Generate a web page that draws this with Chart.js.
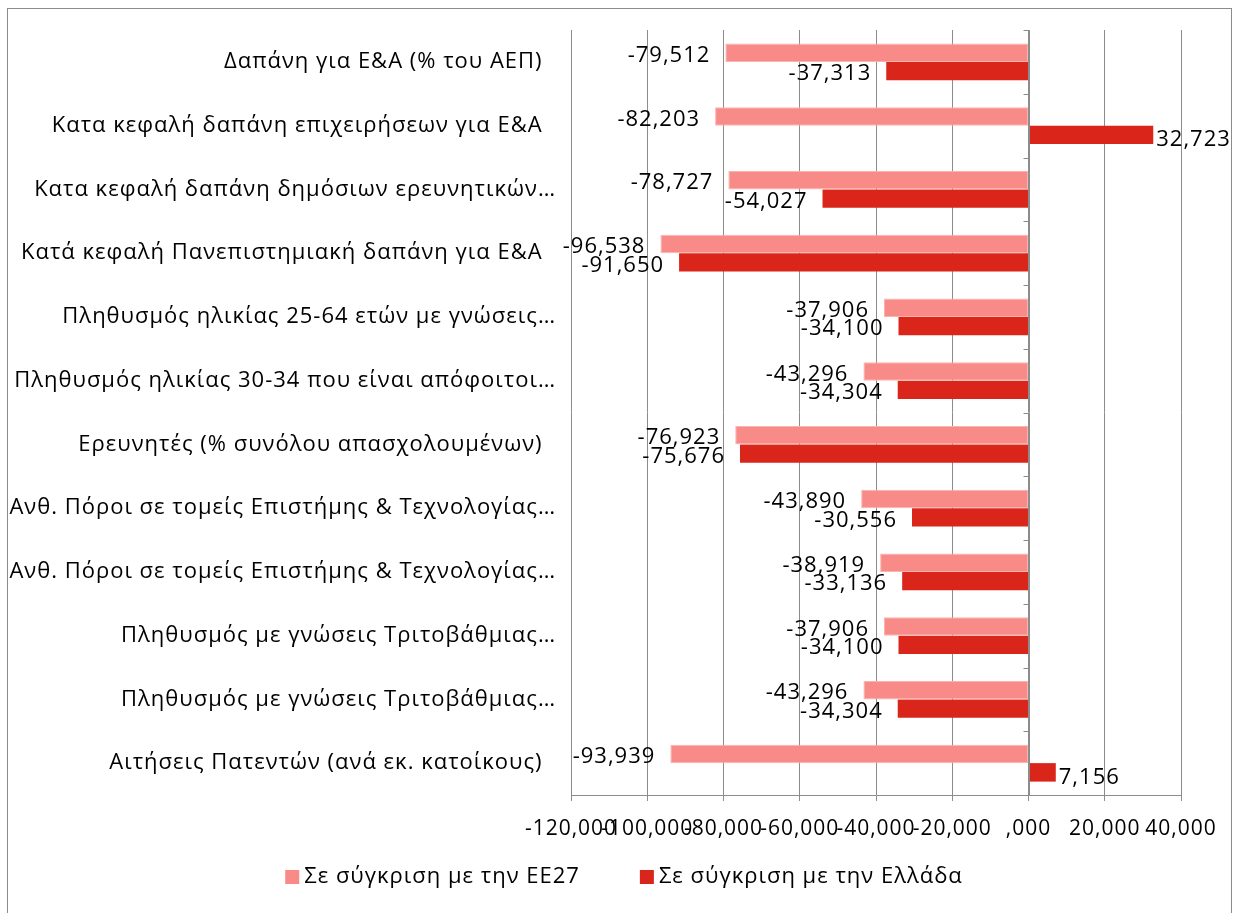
<!DOCTYPE html>
<html>
<head>
<meta charset="utf-8">
<script src="https://cdn.jsdelivr.net/npm/chart.js@4/dist/chart.umd.min.js"></script>
<style>
  html, body { margin: 0; padding: 0; background: #fff; }
  #wrap { width: 1236px; height: 913px; position: relative; }
</style>
</head>
<body>
<div id="wrap"><canvas id="graph"></canvas></div>
<script>
Chart.defaults.font.family = '"Open Sans", "Noto Sans", sans-serif'
Chart.defaults.color = '#000'

const categories = [
  'Δαπάνη για Ε&Α (% του ΑΕΠ)  ',
  'Κατα κεφαλή δαπάνη επιχειρήσεων για Ε&Α  ',
  'Κατα κεφαλή δαπάνη δημόσιων ερευνητικών…',
  'Κατά κεφαλή Πανεπιστημιακή δαπάνη για Ε&Α  ',
  'Πληθυσμός ηλικίας 25-64 ετών με γνώσεις…',
  'Πληθυσμός ηλικίας 30-34 που είναι απόφοιτοι…',
  'Ερευνητές (% συνόλου απασχολουμένων)  ',
  'Ανθ. Πόροι σε τομείς Επιστήμης & Τεχνολογίας…',
  'Ανθ. Πόροι σε τομείς Επιστήμης & Τεχνολογίας…',
  'Πληθυσμός με γνώσεις Τριτοβάθμιας…',
  'Πληθυσμός με γνώσεις Τριτοβάθμιας…',
  'Αιτήσεις Πατεντών (ανά εκ. κατοίκους)  '
]

const seriesNames = ['Σε σύγκριση με την ΕΕ27', 'Σε σύγκριση με την Ελλάδα']

const vsEU27 = [-79.512, -82.203, -78.727, -96.538, -37.906, -43.296, -76.923, -43.890, -38.919, -37.906, -43.296, -93.939]
const vsGreece = [-37.313, 32.723, -54.027, -91.650, -34.100, -34.304, -75.676, -30.556, -33.136, -34.100, -34.304, 7.156]

const tickLabels = ['-120,000', '-100,000', '-80,000', '-60,000', '-40,000', '-20,000', ',000', '20,000', '40,000']

const colors = { eu: '#F88A87', gr: '#DA251B', grid: '#8C8C8C' }

const fmt = v => v.toFixed(3).replace('.', ',')

// outer frame + axis at zero with category tick marks
const frame = {
  id: 'frame',
  beforeDraw(chart) {
    const { ctx } = chart
    ctx.letterSpacing = '1px'
    ctx.save()
    ctx.strokeStyle = '#8C8C8C'
    ctx.lineWidth = 1
    ctx.strokeRect(7.5, 8.5, 1224, 930)
    ctx.restore()
  },
  afterDatasetsDraw(chart) {
    const { ctx, scales: { x, y } } = chart
    const x0 = Math.round(x.getPixelForValue(0)) + 0.5
    ctx.save()
    ctx.strokeStyle = colors.grid
    ctx.lineWidth = 1
    ctx.beginPath()
    ctx.moveTo(x0, y.top)
    ctx.lineTo(x0, y.bottom)
    for (let i = 0; i <= categories.length; i++) {
      const py = Math.round(y.getPixelForValue(i - 0.5)) + 0.5
      ctx.moveTo(x0 - 6, py)
      ctx.lineTo(x0, py)
    }
    ctx.stroke()
    ctx.restore()
  }
}

// value labels at bar ends
const barLabels = {
  id: 'barLabels',
  afterDatasetsDraw(chart) {
    const { ctx } = chart
    ctx.save()
    ctx.font = '22px "Open Sans", sans-serif'
    ctx.fillStyle = '#000'
    ctx.textBaseline = 'middle'
    chart.data.datasets.forEach((ds, di) => {
      chart.getDatasetMeta(di).data.forEach((bar, i) => {
        const v = ds.data[i]
        if (v < 0) {
          ctx.textAlign = 'right'
          ctx.fillText(fmt(v), bar.x - 15, bar.y + 3)
        } else {
          ctx.textAlign = 'left'
          ctx.fillText(fmt(v), bar.x + 3, bar.y + 5)
        }
      })
    })
    ctx.restore()
  }
}

// legend below the axis
const bottomLegend = {
  id: 'bottomLegend',
  afterDraw(chart) {
    const { ctx } = chart
    ctx.save()
    ctx.font = '22px "Open Sans", sans-serif'
    ctx.textBaseline = 'middle'
    ctx.textAlign = 'left'
    const box = 14, gap = 5, between = 60, cy = 877
    const widths = chart.data.datasets.map(ds => box + gap + ctx.measureText(ds.label).width)
    const total = widths.reduce((a, b) => a + b, 0) + between * (widths.length - 1)
    let px = 624 - total / 2
    chart.data.datasets.forEach((ds, i) => {
      ctx.fillStyle = ds.backgroundColor
      ctx.fillRect(px, cy - box / 2, box, box)
      ctx.fillStyle = '#000'
      ctx.fillText(ds.label, px + box + gap, cy)
      px += widths[i] + between
    })
    ctx.restore()
  }
}

new Chart(document.getElementById('graph'), {
  type: 'bar',
  plugins: [frame, barLabels, bottomLegend],
  data: {
    labels: categories,
    datasets: [
      {
        label: seriesNames[0],
        data: vsEU27,
        backgroundColor: colors.eu,
        borderColor: '#FBB3B0',
        borderWidth: 1,
        borderSkipped: false,
        barPercentage: 1,
        categoryPercentage: 0.58
      },
      {
        label: seriesNames[1],
        data: vsGreece,
        backgroundColor: colors.gr,
        borderWidth: 0,
        barPercentage: 1,
        categoryPercentage: 0.58
      }
    ]
  },
  options: {
    indexAxis: 'y',
    responsive: true,
    maintainAspectRatio: false,
    animation: false,
    layout: { padding: { top: 30, right: 55, bottom: 58, left: 0 } },
    plugins: { legend: { display: false }, tooltip: { enabled: false } },
    scales: {
      x: {
        min: -120,
        max: 40,
        afterFit(scale) { scale.height = 60 },
        afterBuildTicks(scale) {
          scale.ticks = tickLabels.map((t, i) => ({ value: -120 + i * 20 }))
        },
        grid: { color: colors.grid, tickLength: 6, drawTicks: true, tickColor: colors.grid },
        border: { display: true, color: colors.grid },
        ticks: {
          autoSkip: false,
          maxRotation: 0,
          minRotation: 0,
          padding: 15,
          font: { size: 21 },
          color: '#000',
          callback: (v, i) => tickLabels[i]
        }
      },
      y: {
        afterFit(scale) { scale.width = 571 },
        grid: { display: false },
        border: { display: false },
        ticks: {
          autoSkip: false,
          padding: 7,
          font: { size: 22 },
          color: '#000'
        }
      }
    }
  }
})
</script>
</body>
</html>
